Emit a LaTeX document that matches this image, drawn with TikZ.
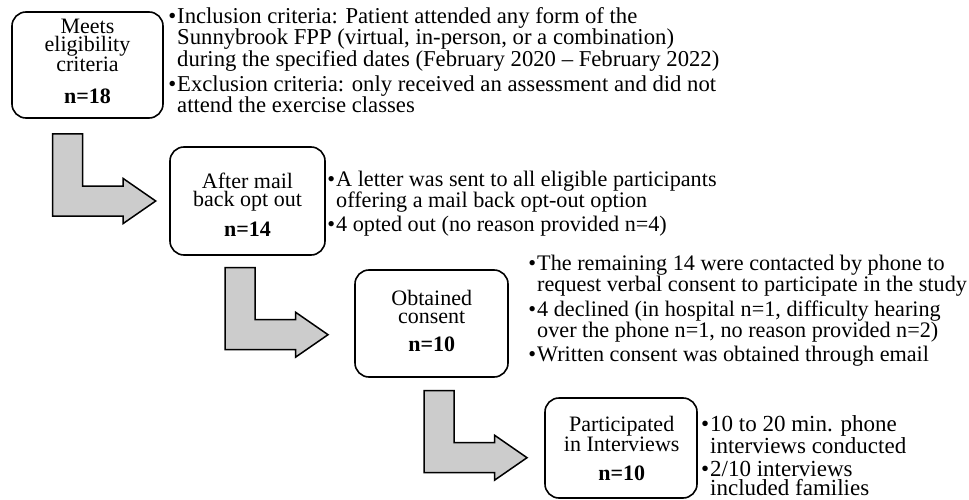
\documentclass[tikz,border=0pt]{standalone}
\usepackage{fontspec}
\setmainfont{Liberation Serif}
\definecolor{arrowgray}{HTML}{CCCCCC}
\newcommand\bul{\llap{\textbullet\hspace{1pt}}}
\begin{document}
\begin{tikzpicture}[x=1pt,y=-1pt,
  box/.style={draw, line width=1.6pt, rounded corners=14pt, inner sep=0pt},
  boxtext/.style={align=center, inner sep=0pt, font=\fontsize{22}{18.3}\selectfont, anchor=base},
  bullets/.style={align=left, inner sep=0pt, font=\fontsize{22.2}{18.4}\selectfont, anchor=base west},
  blockarrow/.style={draw, line width=1.5pt, fill=arrowgray, line join=miter}]
\useasboundingbox (0,0) rectangle (969,500);

% boxes
\node[box, minimum width=151pt, minimum height=106pt] (b1) at (87.5,65) {};
\node[box, minimum width=155pt, minimum height=108pt] (b2) at (247.5,201) {};
\node[box, minimum width=153pt, minimum height=107pt] (b3) at (431.5,323.5) {};
\node[box, minimum width=152pt, minimum height=100pt] (b4) at (621,448) {};

% box texts (anchored at the baseline of the last line)
\node[boxtext] (t1) at (87.5,103.3) {Meets\\eligibility\\criteria\\[13pt]\textbf{n=18}};
\node[boxtext] (t2) at (247.5,236.7) {After mail\\back opt out\\[10pt]\textbf{n=14}};
\node[boxtext] (t3) at (431.7,351.7) {Obtained\\consent\\[10pt]\textbf{n=10}};
\node[boxtext] (t4) at (621.7,480) {Participated\\in Interviews\\[10pt]\textbf{n=10}};

% bullet texts (anchored at the baseline of the last line)
\node[bullets, font=\fontsize{22.7}{18.4}\selectfont] (l1) at (177,113) {\bul Inclusion criteria: Patient attended any form of the\\
Sunnybrook FPP (virtual, in-person, or a combination)\\
during the specified dates (February 2020 -- February 2022)\\[3pt]
\bul Exclusion criteria: only received an assessment and did not\\
attend the exercise classes};
\node[bullets] (l2) at (336,231.7) {\bul A letter was sent to all eligible participants\\
offering a mail back opt-out option\\[3pt]
\bul 4 opted out (no reason provided n=4)};
\node[bullets] (l3) at (537,361.7) {\bul The remaining 14 were contacted by phone to\\
request verbal consent to participate in the study\\[3pt]
\bul 4 declined (in hospital n=1, difficulty hearing\\
over the phone n=1, no reason provided n=2)\\[3pt]
\bul Written consent was obtained through email};
\node[bullets, font=\fontsize{23}{19}\selectfont] (l4) at (710,495) {\bul 10 to 20 min. phone\\
interviews conducted\\[4pt]
\bul 2/10 interviews\\
included families};

% L-shaped block arrows
\foreach \ox/\oy in {52.7/134, 225/267.7, 424/390.7}{
  \draw[blockarrow, shift={(\ox,\oy)}] (0,0) -- (30,0) -- (30,52) -- (70.5,52) -- (70.5,44.5)
    -- (103,67) -- (70.5,89.5) -- (70.5,82) -- (0,82) -- cycle;
}
\end{tikzpicture}
\end{document}
